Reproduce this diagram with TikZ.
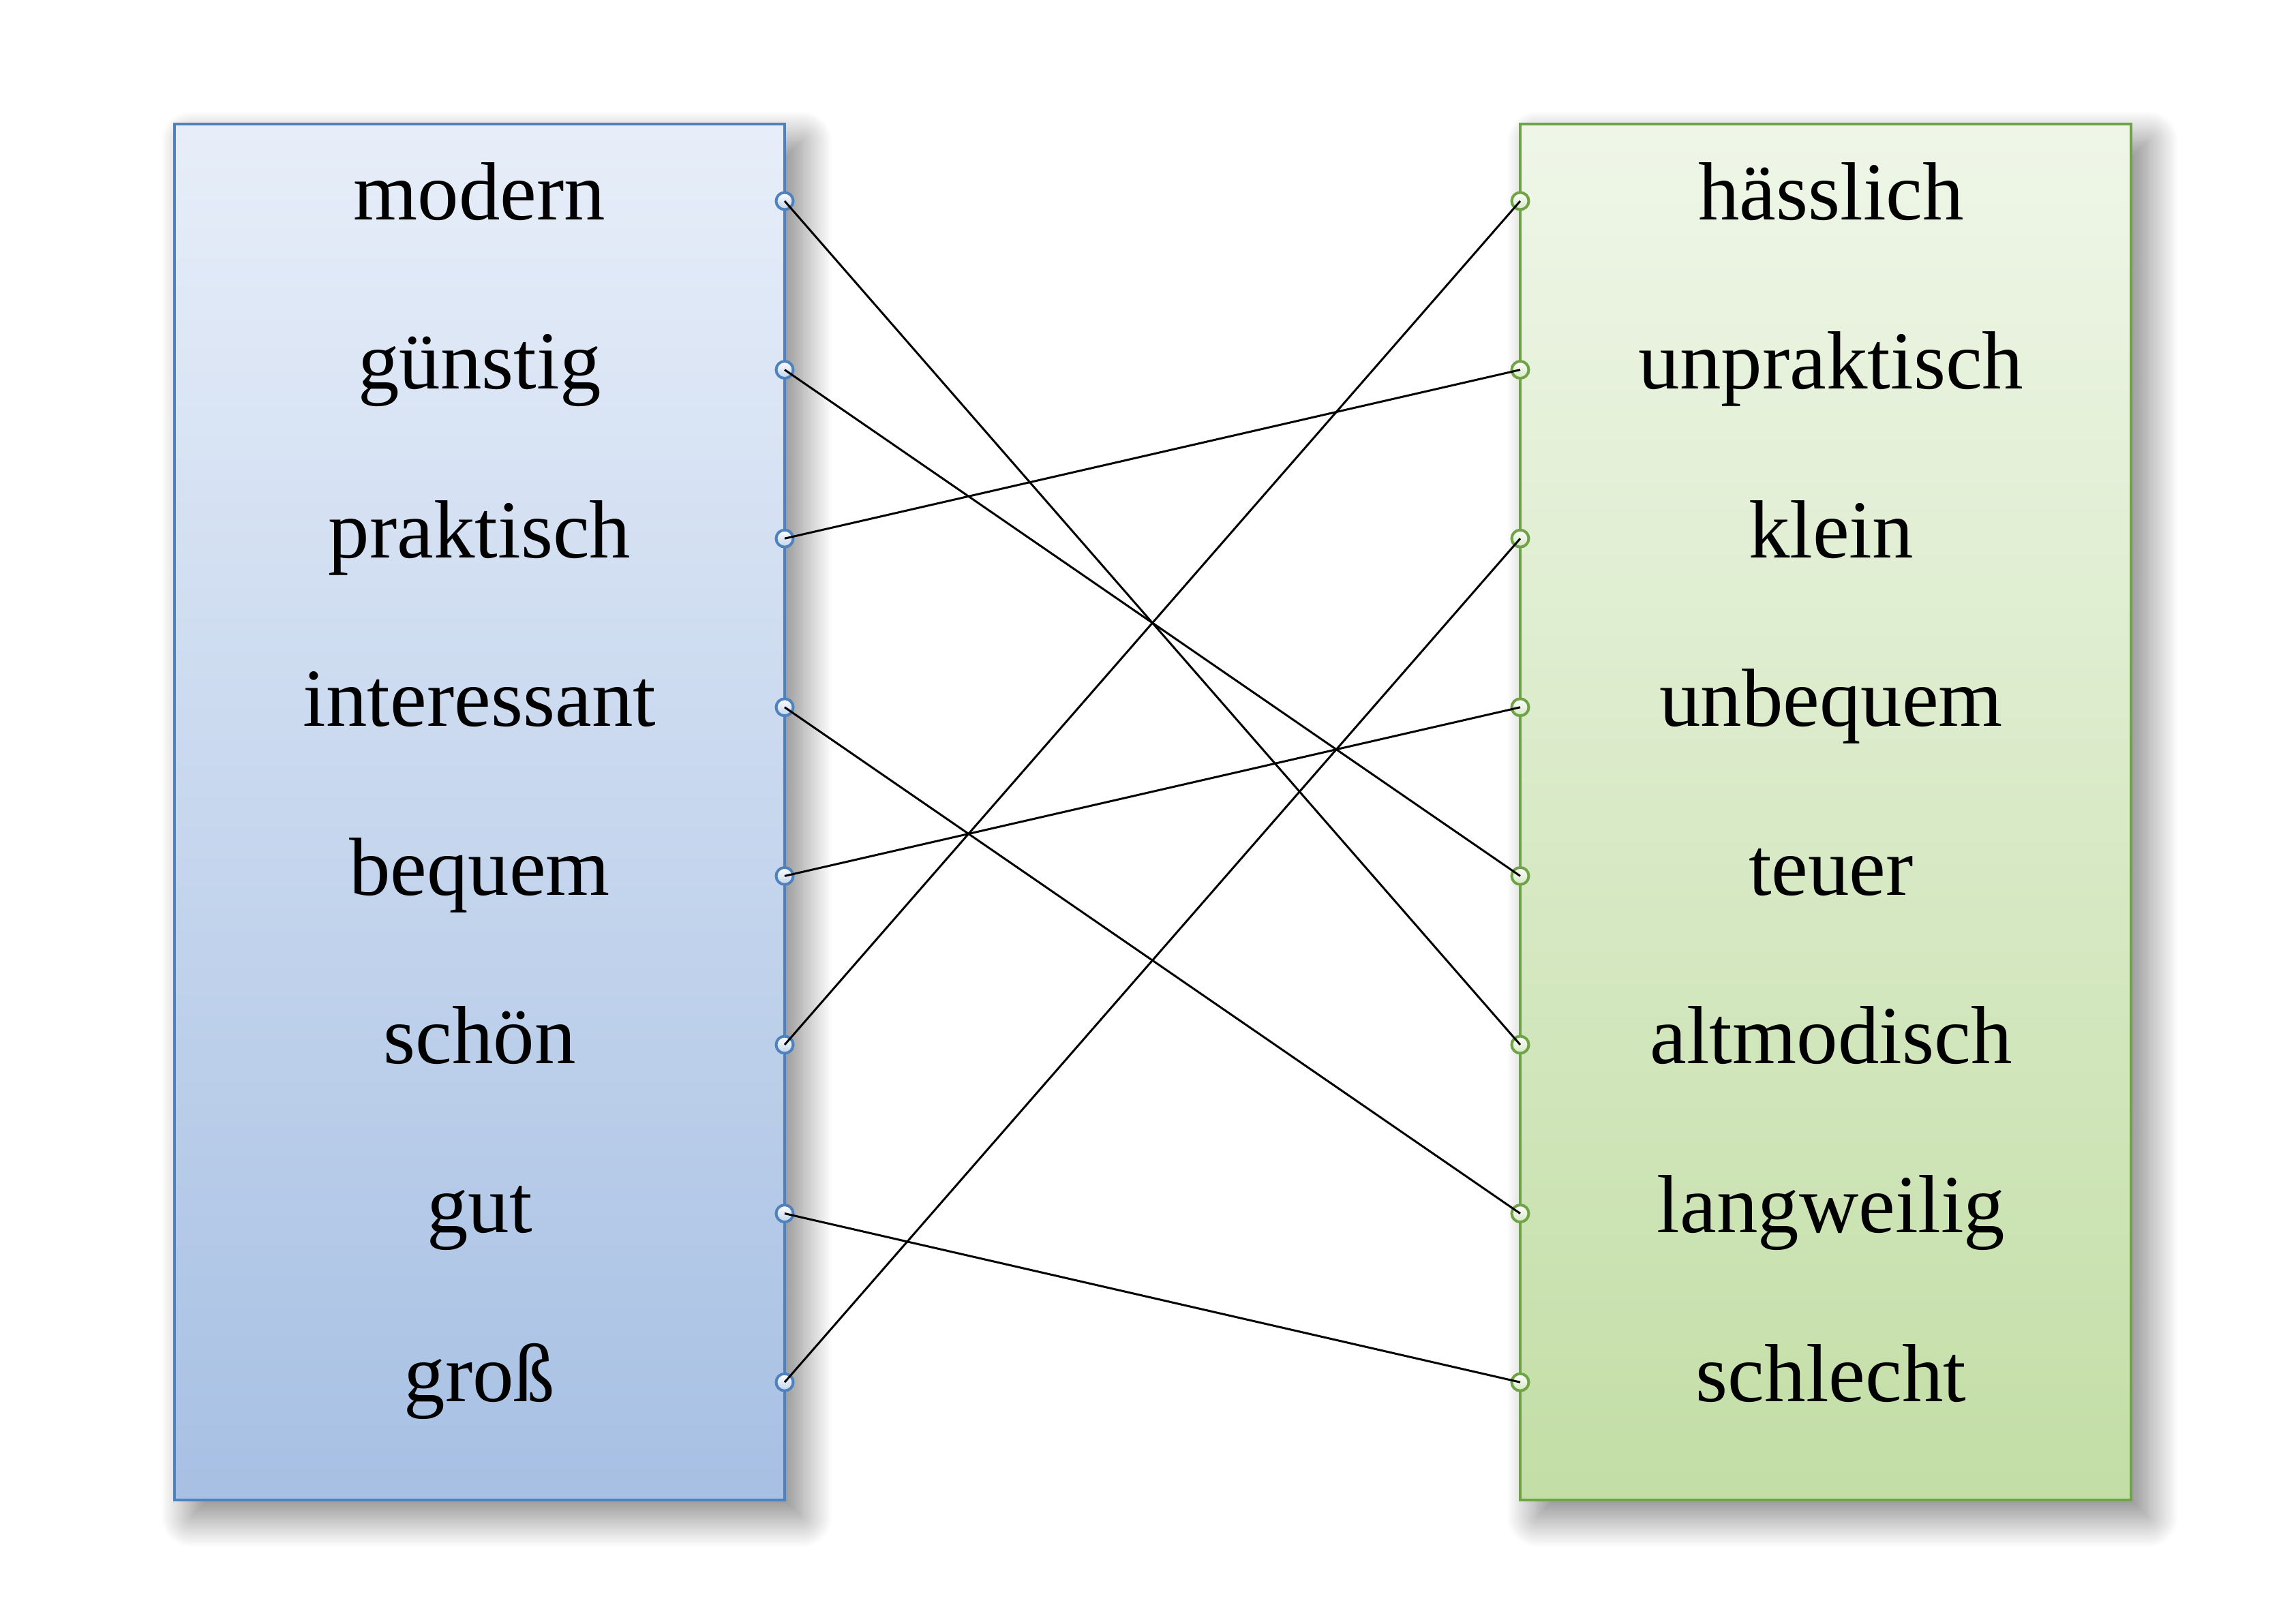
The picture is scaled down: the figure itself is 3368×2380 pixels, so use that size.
\documentclass[tikz,border=0pt]{standalone}
\usepackage{fontspec}
\setmainfont{Liberation Serif}
\usetikzlibrary{shadows.blur}
\definecolor{blueedge}{RGB}{79,129,189}
\definecolor{bluetop}{RGB}{231,238,249}
\definecolor{bluebot}{RGB}{167,192,227}
\definecolor{greenedge}{RGB}{112,163,71}
\definecolor{greentop}{RGB}{239,246,232}
\definecolor{greenbot}{RGB}{195,222,166}
\begin{document}
\begin{tikzpicture}[x=0.01cm,y=-0.01cm,
  panel/.style={draw, line width=0.04cm, minimum width=8.95cm, minimum height=20.17cm,
    inner sep=0pt,
    blur shadow={shadow xshift=0.25cm, shadow yshift=-0.25cm,
      shadow blur radius=0.45cm, shadow blur steps=30, shadow opacity=50}},
  bluepanel/.style={panel, draw=blueedge, top color=bluetop, bottom color=bluebot},
  greenpanel/.style={panel, draw=greenedge, top color=greentop, bottom color=greenbot},
  word/.style={anchor=base, font=\fontsize{34.4}{40}\selectfont, inner sep=0pt},
  port/.style={circle, line width=0.04cm, minimum size=0.25cm, inner sep=0pt},
  blueport/.style={port, draw=blueedge, top color=white, bottom color=bluebot!70!white},
  greenport/.style={port, draw=greenedge, top color=white, bottom color=greenbot!70!white},
  link/.style={line width=0.03cm, black}
]
\useasboundingbox (0,0) rectangle (3368,2380);

% the two columns
\node[bluepanel]  (leftpanel)  at (703.5,1191.5) {};
\node[greenpanel] (rightpanel) at (2678,1191.5) {};

% words and their connection ports
\foreach \w [count=\i from 0] in {modern,günstig,praktisch,interessant,bequem,schön,gut,groß} {
  \node[word] (lw\i) at (703.5,323+247.6*\i) {\w};
  \node[blueport] (lp\i) at (1151,295+247.6*\i) {};
}
\foreach \w [count=\i from 0] in {hässlich,unpraktisch,klein,unbequem,teuer,altmodisch,langweilig,schlecht} {
  \node[word] (rw\i) at (2686,323+247.6*\i) {\w};
  \node[greenport] (rp\i) at (2230,295+247.6*\i) {};
}

% opposites
\foreach \a/\b in {0/5,1/4,2/1,3/6,4/3,5/0,6/7,7/2}
  \draw[link] (lp\a.center) -- (rp\b.center);
\end{tikzpicture}
\end{document}
